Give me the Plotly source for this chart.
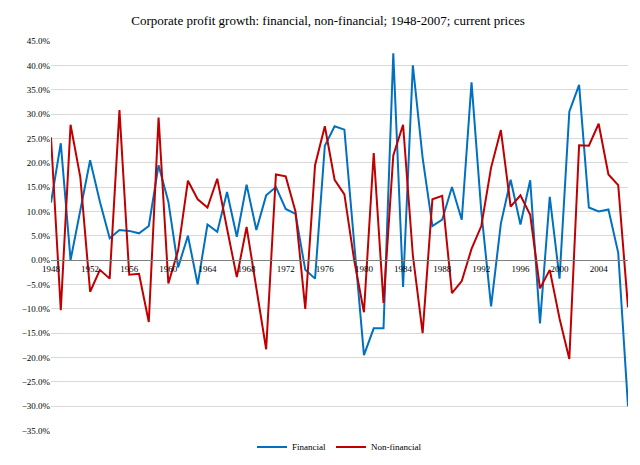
import plotly.graph_objects as go

years = list(range(1948, 2008))
financial = [11.8, 24.0, 0.0, 10.0, 20.5, 12.0, 4.5, 6.2, 6.0, 5.5,
             7.0, 19.5, 12.0, -1.5, 5.0, -5.0, 7.3, 5.8, 14.0, 4.8,
             15.5, 6.2, 13.3, 15.0, 10.5, 9.5, -2.0, -3.8, 23.5, 27.5,
             26.8, 3.5, -19.5, -14.0, -14.0, 42.5, -5.5, 40.0, 21.0, 7.0,
             8.3, 15.0, 8.3, 36.5, 10.0, -9.5, 7.5, 16.5, 7.3, 16.4,
             -13.0, 13.0, -3.8, 30.5, 36.0, 10.8, 10.0, 10.4, 1.5, -30.0]
non_financial = [25.2, -10.3, 27.8, 17.0, -6.5, -2.0, -3.8, 30.8, -3.0, -2.8,
                 -12.7, 29.3, -4.8, 2.0, 16.3, 12.5, 10.8, 16.7, 6.5, -3.5,
                 6.8, -5.5, -18.3, 17.6, 17.2, 10.0, -10.0, 19.5, 27.5, 16.5,
                 13.5, 0.0, -10.7, 22.0, -8.8, 21.5, 27.8, 1.0, -15.0, 12.5,
                 13.2, -6.8, -4.3, 2.3, 7.0, 19.0, 26.7, 11.0, 13.3, 9.3,
                 -5.8, -2.0, -12.0, -20.3, 23.6, 23.5, 28.0, 17.6, 15.4, -9.7]

FONT = "Liberation Serif"
Y_MIN, Y_MAX = -35, 45
# plot area: top 33px, bottom 12px margin, leave 19px at the bottom for the legend
PLOT_H = 465 - 33 - 12
Y_DOM0 = 19 / PLOT_H

fig = go.Figure()
fig.add_trace(go.Scatter(x=years, y=[v / 100 for v in financial], mode="lines",
                         name="Financial", line=dict(color="#0070c0", width=2)))
fig.add_trace(go.Scatter(x=years, y=[v / 100 for v in non_financial], mode="lines",
                         name="Non-financial", line=dict(color="#c00000", width=2)))

fig.update_layout(
    width=640, height=465,
    margin=dict(l=43, r=20, t=33, b=12),
    paper_bgcolor="white", plot_bgcolor="white",
    font=dict(family=FONT, size=9, color="black"),
    title=dict(text="Corporate profit growth: financial, non-financial; 1948-2007; current prices",
               x=0.5, xanchor="center", y=1 - 12 / 465, yanchor="middle",
               font=dict(family=FONT, size=13)),
    showlegend=True,
    legend=dict(orientation="h", x=0.5, xanchor="center", y=0.005, yanchor="middle",
                font=dict(size=9)),
)
fig.update_xaxes(
    range=[1948, 2007], tickmode="array", tickvals=years[::4],
    ticks="", showgrid=False, zeroline=False,
    showline=True, linecolor="#808080", linewidth=1,
    anchor="free", position=Y_DOM0 + (0 - Y_MIN) / (Y_MAX - Y_MIN) * (1 - Y_DOM0),
    tickfont=dict(size=9),
)
fig.update_yaxes(
    domain=[Y_DOM0, 1],
    range=[Y_MIN / 100, Y_MAX / 100], dtick=0.05, tickformat=".1%",
    showgrid=True, gridcolor="#d9d9d9", zeroline=False, showline=False,
    tickfont=dict(size=9),
)

fig.write_html("out.html")
